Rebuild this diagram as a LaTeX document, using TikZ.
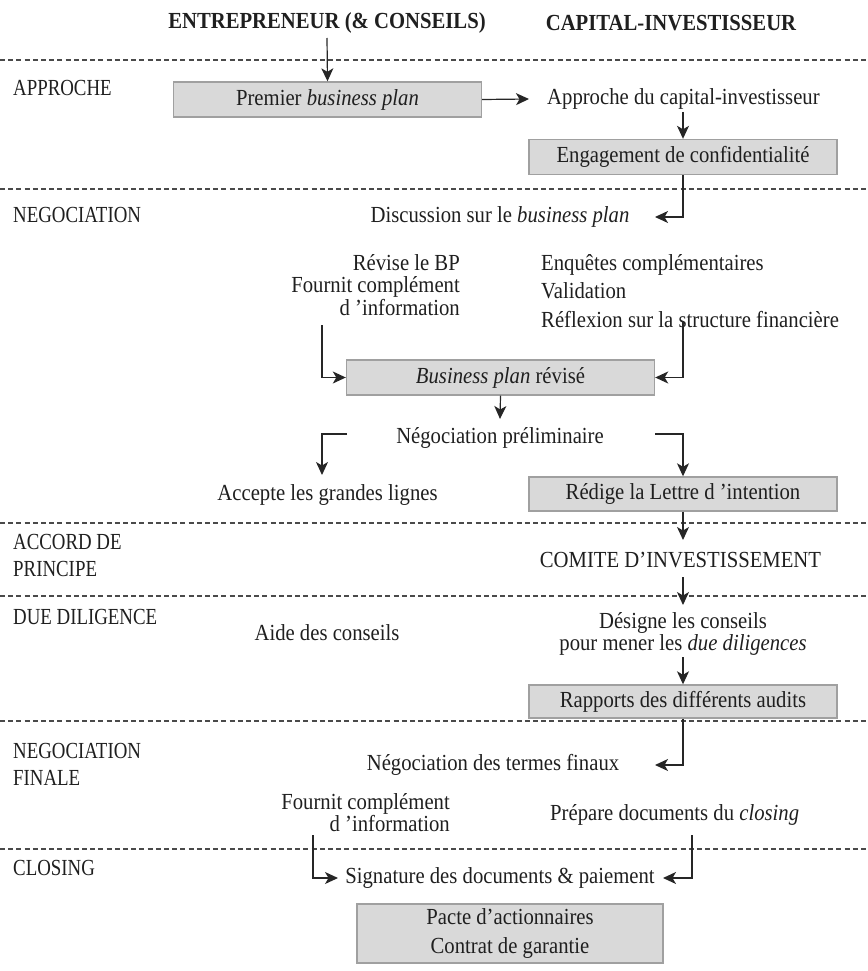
\documentclass[tikz,border=0pt]{standalone}
\usepackage{fontspec}
\setmainfont[FakeStretch=0.9]{Liberation Serif}
\newfontfamily\phasefont[FakeStretch=0.82]{Liberation Serif}
\usetikzlibrary{arrows.meta}
\definecolor{boxfill}{HTML}{D9D9D9}
\definecolor{boxedge}{HTML}{A0A0A0}
\definecolor{lineclr}{HTML}{262626}
\definecolor{dashclr}{HTML}{4A4A4A}
\begin{document}
\begin{tikzpicture}[x=1pt,y=-1pt,
  font=\fontsize{23}{26}\selectfont,
  txt/.style={inner sep=0pt, text=black!88},
  box/.style={draw=boxedge, fill=boxfill, line width=1.4pt, minimum width=308pt, minimum height=35pt, inner sep=0pt, text=black!88},
  conn/.style={line width=1.2pt, draw=lineclr},
  arr/.style={conn, -{Stealth[length=13pt,width=12pt,inset=3.5pt]}},
  sep/.style={line width=1.5pt, draw=dashclr, dash pattern=on 5pt off 3.2pt},
  phase/.style={txt, anchor=west, align=left, font=\phasefont\fontsize{23}{27}\selectfont}]
\useasboundingbox (0,0) rectangle (867,971);

% headers
\node[txt, font=\fontsize{23}{26}\selectfont\bfseries] (hE) at (327,23) {ENTREPRENEUR (\& CONSEILS)};
\node[txt, font=\fontsize{23}{26}\selectfont\bfseries] (hC) at (671,23) {CAPITAL-INVESTISSEUR};

% separators
\coordinate (s1a) at (0,60);  \coordinate (s1b) at (867,60);
\coordinate (s2a) at (0,189); \coordinate (s2b) at (867,189);
\coordinate (s3a) at (0,523); \coordinate (s3b) at (867,523);
\coordinate (s4a) at (0,596); \coordinate (s4b) at (867,596);
\coordinate (s5a) at (0,721); \coordinate (s5b) at (867,721);
\coordinate (s6a) at (0,849); \coordinate (s6b) at (867,849);
\foreach \s in {1,...,6} { \draw[sep] (s\s a) -- (s\s b); }

% phase labels
\node[phase] (pA) at (13,88) {APPROCHE};
\node[phase] (pN) at (13,215) {NEGOCIATION};
\node[phase] (pP) at (13,555) {ACCORD DE\\PRINCIPE};
\node[phase] (pD) at (13,617) {DUE DILIGENCE};
\node[phase] (pF) at (13,764) {NEGOCIATION\\FINALE};
\node[phase] (pC) at (13,868) {CLOSING};

% approche
\node[box] (premier) at (327.5,99.5) {Premier \textit{business plan}};
\node[txt, anchor=west] (approche) at (547,99) {Approche du capital-investisseur};
\node[box] (engag) at (683,157) {Engagement de confidentialité};
\coordinate (eTop) at (327,38);
\coordinate (apTip) at (529,99);
\draw[arr] (eTop) -- (premier.north);
\draw[arr] (premier.east) -- (apTip);
\coordinate (aBot) at (683,112);
\draw[arr] (aBot) -- (engag.north);

% negociation
\node[txt] (discuss) at (500,217) {Discussion sur le \textit{business plan}};
\coordinate (dTip) at (655,217);
\draw[arr] (engag.south) |- (dTip);

\node[txt, anchor=east, align=right, font=\fontsize{23}{22.5}\selectfont] (revise) at (460,285) {Révise le BP\\Fournit complément\\d~'information};
\node[txt, anchor=west, align=left, font=\fontsize{23}{28.5}\selectfont] (enq) at (541,291) {Enquêtes complémentaires\\Validation\\Réflexion sur la structure financière};

\node[box] (bpr) at (500.5,377.5) {\textit{Business plan} révisé};
\coordinate (rvL) at (322,325);
\coordinate (enR) at (683,321);
\draw[arr] (rvL) |- (bpr.west);
\draw[arr] (enR) |- (bpr.east);

\node[txt] (negopre) at (500,438) {Négociation préliminaire};
\coordinate (npTop) at (500,419);
\draw[arr] (bpr.south) -- (npTop);

\node[txt] (accepte) at (327.5,495) {Accepte les grandes lignes};
\node[box, minimum height=34pt] (redige) at (683,494) {Rédige la Lettre d~'intention};
\coordinate (nL) at (347,434);
\coordinate (nR) at (655,434);
\coordinate (acTop) at (322,475);
\draw[arr] (nL) -| (acTop);
\draw[arr] (nR) -| (redige.north);

% accord de principe
\node[txt] (comite) at (680.5,560) {COMITE D’INVESTISSEMENT};
\coordinate (cTop) at (683,540);
\draw[arr] (redige.south) -- (cTop);

% due diligence
\node[txt] (aide) at (327,633) {Aide des conseils};
\node[txt, align=center, font=\fontsize{23}{21.5}\selectfont] (designe) at (683,634) {Désigne les conseils\\pour mener les \textit{due diligences}};
\coordinate (cBot) at (683,577);
\coordinate (dsTop) at (683,605);
\draw[arr] (cBot) -- (dsTop);
\node[box, minimum height=33pt] (rapports) at (683,701.5) {Rapports des différents audits};
\coordinate (dsBot) at (683,657);
\draw[arr] (dsBot) -- (rapports.north);

% negociation finale
\node[txt] (negofin) at (493,765) {Négociation des termes finaux};
\coordinate (nfTip) at (655,765);
\draw[arr] (rapports.south) |- (nfTip);

\node[txt, anchor=east, align=right, font=\fontsize{23}{22}\selectfont] (fournit) at (450,813) {Fournit complément\\d~'information};
\node[txt, anchor=west] (prepare) at (550,815) {Prépare documents du \textit{closing}};

% closing
\node[txt] (signature) at (500,878) {Signature des documents \& paiement};
\coordinate (fL) at (313,835);
\coordinate (pR) at (692,835);
\coordinate (sgL) at (338,878);
\coordinate (sgR) at (663,878);
\draw[arr] (fL) |- (sgL);
\draw[arr] (pR) |- (sgR);

\node[box, minimum width=306pt, minimum height=59pt, align=center, font=\fontsize{23}{29}\selectfont] (pacte) at (510,933.5) {Pacte d’actionnaires\\Contrat de garantie};
\end{tikzpicture}
\end{document}
